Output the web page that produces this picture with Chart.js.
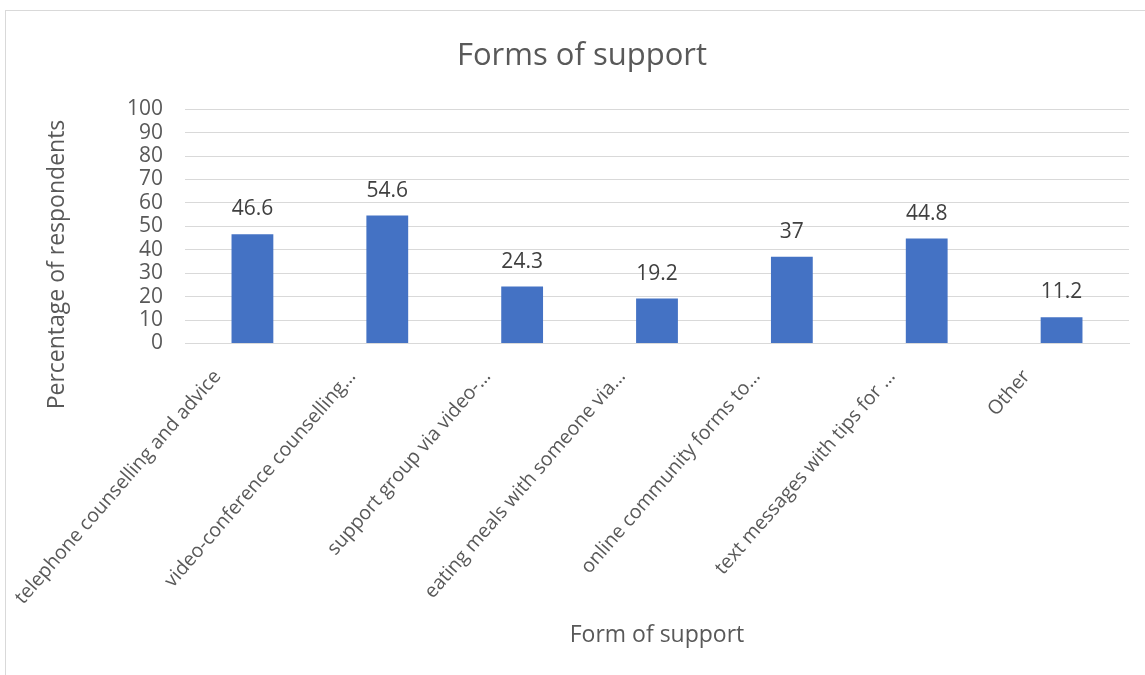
<!DOCTYPE html>
<html>
<head>
<meta charset="utf-8">
<script src="https://cdn.jsdelivr.net/npm/chart.js@4.4.1/dist/chart.umd.min.js"></script>
<style>
  html, body { margin: 0; padding: 0; background: #fff; }
  #frame { position: absolute; left: 5px; top: 10px; width: 1200px; height: 700px; border: 1px solid #d9d9d9; }
  #wrap { position: absolute; left: 0; top: 0; width: 1145px; height: 675px; }
</style>
</head>
<body>
<div id="frame"></div>
<div id="wrap"><canvas id="myChart"></canvas></div>
<script>
// data
const categories = [
  'telephone counselling and advice',
  'video-conference counselling…',
  'support group via video-…',
  'eating meals with someone via…',
  'online community forms to…',
  'text messages with tips for …',
  'Other'
];
const percentages = [46.6, 54.6, 24.3, 19.2, 37, 44.8, 11.2];
const yTicks = [0, 10, 20, 30, 40, 50, 60, 70, 80, 90, 100];
const yTitle = 'Percentage of respondents';

const FONT = '"Open Sans", sans-serif';

// writes the value over each bar
const valueLabels = {
  id: 'valueLabels',
  afterDatasetsDraw(chart) {
    const c = chart.ctx;
    const meta = chart.getDatasetMeta(0);
    c.save();
    c.font = '21px ' + FONT;
    c.fillStyle = '#404040';
    c.textAlign = 'center';
    c.textBaseline = 'alphabetic';
    meta.data.forEach(function (bar, i) {
      c.fillText(String(percentages[i]), bar.x, bar.y - 19);
    });
    c.restore();
  }
};

// y axis title sits a bit lower than the plot centre in the original, so draw it by hand
const yAxisTitle = {
  id: 'yAxisTitle',
  afterDraw(chart) {
    const c = chart.ctx;
    const area = chart.chartArea;
    c.save();
    c.translate(57, area.bottom - 79);
    c.rotate(-Math.PI / 2);
    c.font = '23px ' + FONT;
    c.fillStyle = '#595959';
    c.textAlign = 'center';
    c.textBaseline = 'middle';
    c.fillText(yTitle, 0, 0);
    c.restore();
  }
};

document.addEventListener("DOMContentLoaded", function () {
  const ctx = document.getElementById('myChart');

  new Chart(ctx, {
    type: 'bar',
    data: {
      labels: categories,
      datasets: [{
        label: 'Percentage',
        data: percentages,
        backgroundColor: '#4472c4',
        borderWidth: 0,
        categoryPercentage: 1,
        barPercentage: 0.31
      }]
    },
    options: {
      responsive: true,
      maintainAspectRatio: false,
      animation: false,
      layout: { padding: { left: 35, right: 16, top: 38, bottom: 26 } },
      plugins: {
        legend: { display: false },
        tooltip: { enabled: false },
        title: {
          display: true,
          text: 'Forms of support',
          color: '#595959',
          font: { family: FONT, size: 31, weight: 'normal' },
          padding: { top: 0, bottom: 34 }
        }
      },
      scales: {
        x: {
          grid: { display: false },
          border: { color: '#d9d9d9', width: 1 },
          ticks: {
            color: '#595959',
            font: { family: FONT, size: 19.5 },
            minRotation: 49,
            maxRotation: 49,
            autoSkip: false,
            padding: 14,
            labelOffset: -35
          },
          title: {
            display: true,
            text: 'Form of support',
            color: '#595959',
            font: { family: FONT, size: 23 },
            padding: { top: 5, bottom: 0 }
          }
        },
        y: {
          min: 0,
          max: 100,
          afterBuildTicks(axis) {
            axis.ticks = yTicks.map(v => ({ value: v }));
          },
          afterFit(axis) {
            axis.width = 150;
          },
          grid: { color: '#d9d9d9', lineWidth: 1, drawTicks: false },
          border: { display: false },
          ticks: {
            color: '#595959',
            font: { family: FONT, size: 21 },
            autoSkip: false,
            padding: 22
          }
        }
      }
    },
    plugins: [valueLabels, yAxisTitle]
  });
});
</script>
</body>
</html>
